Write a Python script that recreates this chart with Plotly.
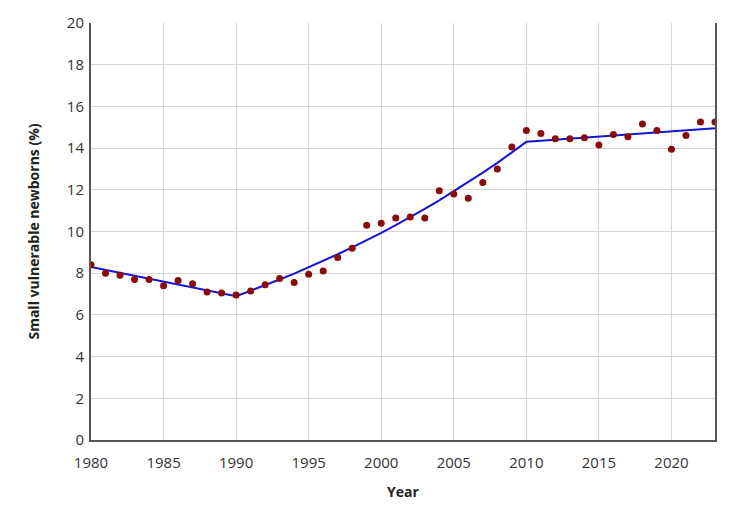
import plotly.graph_objects as go

years = list(range(1980, 2024))
observed = [8.4, 8.0, 7.9, 7.7, 7.7, 7.4, 7.65, 7.5, 7.1, 7.05,
            6.95, 7.15, 7.45, 7.75, 7.55, 7.95, 8.1, 8.75, 9.2, 10.3,
            10.4, 10.65, 10.7, 10.65, 11.95, 11.8, 11.6, 12.35, 13.0, 14.05,
            14.85, 14.7, 14.45, 14.45, 14.5, 14.15, 14.65, 14.55, 15.15, 14.85,
            13.95, 14.6, 15.25, 15.25]
trend = [8.30, 8.16, 8.02, 7.88, 7.74, 7.60, 7.46, 7.32, 7.18, 7.04,
         6.90, 7.16, 7.42, 7.70, 7.98, 8.28, 8.59, 8.91, 9.24, 9.58,
         9.93, 10.30, 10.68, 11.08, 11.49, 11.92, 12.36, 12.82, 13.29, 13.79,
         14.30, 14.35, 14.40, 14.45, 14.50, 14.55, 14.60, 14.65, 14.70, 14.75,
         14.80, 14.85, 14.90, 14.95]
x_ticks = [1980, 1985, 1990, 1995, 2000, 2005, 2010, 2015, 2020]
y_ticks = [0, 2, 4, 6, 8, 10, 12, 14, 16, 18, 20]

fig = go.Figure()
fig.add_trace(go.Scatter(x=years, y=trend, mode="lines",
                         line=dict(color="#1414d2", width=2), hoverinfo="skip"))
fig.add_trace(go.Scatter(x=years, y=observed, mode="markers",
                         marker=dict(color="#8b0a0a", size=7)))

fig.update_layout(
    width=750, height=516,
    margin=dict(l=91, r=35, t=19, b=76),
    paper_bgcolor="white", plot_bgcolor="white",
    showlegend=False,
    font=dict(family="Open Sans, Segoe UI, sans-serif", color="#333"),
)
fig.update_xaxes(range=[1980, 2023], tickvals=x_ticks, showgrid=True,
                 gridcolor="#d6d6d6", gridwidth=1, showline=True,
                 linecolor="#555", linewidth=2, mirror=False, zeroline=False,
                 ticks="outside", ticklen=8, tickcolor="rgba(0,0,0,0)",
                 tickfont=dict(size=15, color="#333"),
                 title=dict(text="<b>Year</b>", font=dict(size=14, color="#222"), standoff=16))
fig.update_yaxes(range=[0, 20], tickvals=y_ticks, showgrid=True,
                 gridcolor="#d6d6d6", gridwidth=1, showline=True,
                 linecolor="#555", linewidth=2, mirror=True, zeroline=False,
                 ticks="outside", ticklen=2, tickcolor="rgba(0,0,0,0)",
                 tickfont=dict(size=15, color="#333"),
                 title=dict(text="<b>Small vulnerable newborns (%)</b>",
                            font=dict(size=14, color="#222"), standoff=24))

fig.write_html("out.html")
